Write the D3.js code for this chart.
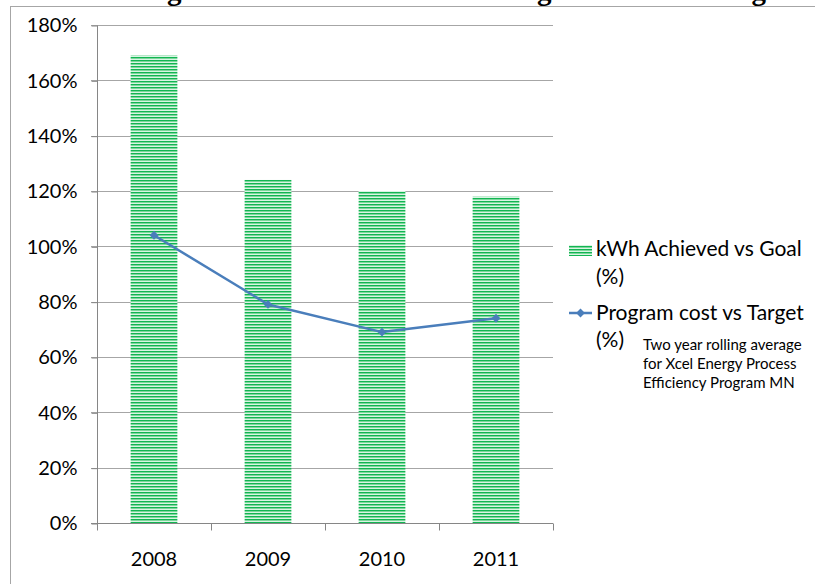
<!DOCTYPE html>
<html>
<head>
<meta charset="utf-8">
<script src="https://cdn.jsdelivr.net/npm/d3@7"></script>
<style>
  html, body { margin: 0; padding: 0; background: #fff; }
  svg { display: block; }
</style>
</head>
<body>
<svg id="chart" width="815" height="584"></svg>
<script>
// Process efficiency program performance, two-year rolling averages
const years = ["2008", "2009", "2010", "2011"];
const kwhAchieved = [169, 124, 120, 118];      // kWh achieved vs goal (%)
const costVsTarget = [104, 79, 69, 74];        // program cost vs target (%)
const yTicks = [0, 20, 40, 60, 80, 100, 120, 140, 160, 180];
const seriesNames = ["kWh Achieved vs Goal", "Program cost vs Target"];
const noteLines = ["Two year rolling average", "for Xcel Energy Process", "Efficiency Program MN"];
const titleText = "Exceeding kWh Goals While Remaining Under Cost Targets";

const svg = d3.select("#chart");
const font = "Lato, 'Open Sans', sans-serif";

// hatched green fill for the bars
const defs = svg.append("defs");
const pat = defs.append("pattern")
  .attr("id", "stripes").attr("patternUnits", "userSpaceOnUse")
  .attr("width", 6).attr("height", 3);
pat.append("rect").attr("width", 6).attr("height", 3).attr("fill", "#d9f4e3");
pat.append("rect").attr("y", 0).attr("width", 6).attr("height", 1).attr("fill", "#12b552");
pat.append("rect").attr("y", 1).attr("width", 6).attr("height", 1).attr("fill", "#7cd79c");

// chart title (runs above the frame, only its descenders fall inside the page)
svg.append("text")
  .attr("x", 427).attr("y", 0)
  .attr("text-anchor", "middle")
  .attr("font-family", "'Liberation Serif', 'Times New Roman', serif")
  .attr("font-weight", "bold").attr("font-size", 29)
  .attr("fill", "#000")
  .text(titleText);

// chart frame
svg.append("rect")
  .attr("x", 10.5).attr("y", 6.5).attr("width", 900).attr("height", 700)
  .attr("fill", "none").attr("stroke", "#a6a6a6").attr("stroke-width", 1);

const plot = { left: 97, right: 553, top: 25, bottom: 523 };

const x = d3.scaleBand().domain(years).range([plot.left, plot.right]).padding(0);
const y = d3.scaleLinear().domain([0, 180]).range([plot.bottom, plot.top]);

// gridlines
svg.append("g")
  .selectAll("line").data(yTicks.filter(d => d > 0)).join("line")
  .attr("x1", plot.left - 6).attr("x2", plot.right)
  .attr("y1", d => Math.round(y(d)) + 0.5).attr("y2", d => Math.round(y(d)) + 0.5)
  .attr("stroke", "#a6a6a6").attr("stroke-width", 1);

// y axis
const yAxis = svg.append("g")
  .attr("transform", `translate(${plot.left + 0.5},0.5)`)
  .call(d3.axisLeft(y).tickValues(yTicks).tickSize(6).tickPadding(14)
    .tickFormat(d => d + "%"));
yAxis.select(".domain").attr("stroke", "#868686").attr("d", `M0,${plot.top}V${plot.bottom}`);
yAxis.selectAll(".tick line").attr("stroke", "#868686");
yAxis.selectAll(".tick text")
  .attr("font-family", font).attr("font-size", 20).attr("fill", "#000");

// x axis
const xAxis = svg.append("g")
  .attr("transform", `translate(0,${plot.bottom + 0.5})`)
  .call(d3.axisBottom(x).tickSize(0).tickPadding(28));
xAxis.select(".domain").attr("stroke", "#868686").attr("d", `M${plot.left - 6},0H${plot.right}`);
xAxis.selectAll(".tick text")
  .attr("font-family", font).attr("font-size", 20).attr("fill", "#000");
// category boundary ticks
xAxis.append("g").selectAll("line")
  .data(years.map(d => x(d)).concat([x(years[years.length - 1]) + x.bandwidth()]))
  .join("line")
  .attr("x1", d => Math.round(d) + 0.5).attr("x2", d => Math.round(d) + 0.5)
  .attr("y1", 0).attr("y2", 7)
  .attr("stroke", "#868686");

// bars
const barW = x.bandwidth() * 0.41;
svg.append("g").selectAll("rect").data(years).join("rect")
  .attr("x", (d, i) => x(d) + (x.bandwidth() - barW) / 2)
  .attr("y", (d, i) => y(kwhAchieved[i]))
  .attr("width", barW)
  .attr("height", (d, i) => y(0) - y(kwhAchieved[i]))
  .attr("fill", "url(#stripes)");

// cost line
const pts = years.map((d, i) => [x(d) + x.bandwidth() / 2, y(costVsTarget[i])]);
svg.append("path")
  .attr("d", d3.line()(pts))
  .attr("fill", "none").attr("stroke", "#4a7ebb").attr("stroke-width", 2.5)
  .attr("stroke-linejoin", "round");
const diamond = d3.symbol().type(d3.symbolDiamond2).size(50);
svg.append("g").selectAll("path").data(pts).join("path")
  .attr("transform", d => `translate(${d[0]},${d[1]})`)
  .attr("d", diamond).attr("fill", "#4a7ebb");

// legend
const lg = svg.append("g");
lg.append("rect").attr("x", 569).attr("y", 245).attr("width", 23).attr("height", 11)
  .attr("fill", "url(#stripes)");
lg.append("text").attr("x", 596).attr("y", 256)
  .attr("font-family", font).attr("font-size", 21).attr("fill", "#000")
  .text(seriesNames[0]);
lg.append("text").attr("x", 596).attr("y", 284)
  .attr("font-family", font).attr("font-size", 21).attr("fill", "#000")
  .text("(%)");
lg.append("line").attr("x1", 569).attr("x2", 592).attr("y1", 313).attr("y2", 313)
  .attr("stroke", "#4a7ebb").attr("stroke-width", 2.5);
lg.append("path").attr("transform", "translate(580.5,313)").attr("d", diamond)
  .attr("fill", "#4a7ebb");
lg.append("text").attr("x", 596).attr("y", 320)
  .attr("font-family", font).attr("font-size", 21).attr("fill", "#000")
  .text(seriesNames[1]);
lg.append("text").attr("x", 596).attr("y", 347)
  .attr("font-family", font).attr("font-size", 21).attr("fill", "#000")
  .text("(%)");

// note
svg.append("g").selectAll("text").data(noteLines).join("text")
  .attr("x", 643).attr("y", (d, i) => 350 + i * 19)
  .attr("font-family", font).attr("font-size", 15).attr("fill", "#000")
  .text(d => d);
</script>
</body>
</html>
